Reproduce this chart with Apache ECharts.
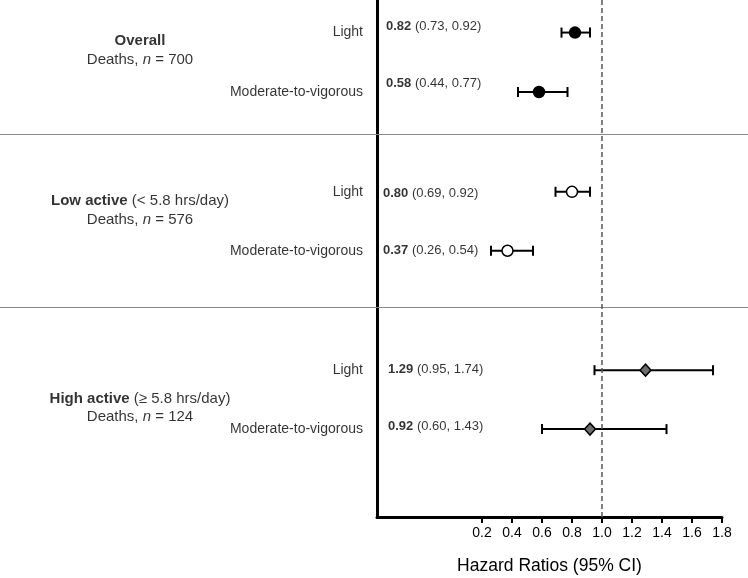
<!DOCTYPE html>
<html><head><meta charset="utf-8">
<script src="https://cdn.jsdelivr.net/npm/echarts@6/dist/echarts.min.js"></script>
<style>html,body{margin:0;padding:0;background:#fff}#c{width:748px;height:578px}</style>
</head><body><div id="c"></div>
<script>
// ---- data ----
const groups = ['Overall', 'Low active', 'High active'];
const groupNotes = ['', ' (< 5.8 hrs/day)', ' (≥ 5.8 hrs/day)'];
const deaths = [700, 576, 124];
const intensities = ['Light', 'Moderate-to-vigorous'];
const hr = [0.82, 0.58, 0.80, 0.37, 1.29, 0.92];
const ciLow = [0.73, 0.44, 0.69, 0.26, 0.95, 0.60];
const ciHigh = [0.92, 0.77, 0.92, 0.54, 1.74, 1.43];
const tickValues = [0.2, 0.4, 0.6, 0.8, 1.0, 1.2, 1.4, 1.6, 1.8];

// ---- layout (vertical positions in axis units, 0 = top) ----
const rowY = [6.3, 17.8, 37.1, 48.5, 71.6, 83.0];
const groupY = [9.7, 40.7, 78.9];
const sepY = [25.9, 59.4];
const hrLabelDy = [-6, -9, 2, 0, -1, -3];
const hrLabelDx = [9, 9, 6, 6, 11, 11];
const intLabelDy = [0, 0, 0, 0, 0, 0];

const FONT = 'Liberation Sans, Arial, sans-serif';
const XMIN = -0.5;

const chart = echarts.init(document.getElementById('c'), null, {renderer: 'canvas'});

function fmt(v) { return v.toFixed(2); }

const errData = hr.map((v, i) => [ciLow[i], ciHigh[i], rowY[i]]);
const groupStyles = [
  {symbol: 'circle', size: 11, color: '#000', border: '#000'},
  {symbol: 'circle', size: 11, color: '#fff', border: '#000'},
  {symbol: 'diamond', size: [11, 12], color: '#6e6e6e', border: '#000'}
];

const pointSeries = groups.map((g, gi) => ({
  type: 'scatter',
  name: g,
  z: 5,
  symbol: groupStyles[gi].symbol,
  symbolSize: groupStyles[gi].size,
  itemStyle: {color: groupStyles[gi].color, borderColor: groupStyles[gi].border, borderWidth: 1.5, opacity: 1},
  data: [0, 1].map(k => [hr[gi * 2 + k], rowY[gi * 2 + k]]),
  silent: true
}));

pointSeries[0].markLine = {
  silent: true,
  symbol: ['none', 'none'],
  label: {show: false},
  lineStyle: {type: [5, 3], color: '#555', width: 1.5},
  data: [{xAxis: 1.0}]
};

const option = {
  animation: false,
  backgroundColor: '#fff',
  grid: {left: 377, right: 26, top: 0, bottom: 61, outerBoundsMode: 'none', containLabel: false},
  xAxis: {
    type: 'value', min: XMIN, max: 1.8,
    splitLine: {show: false},
    axisLine: {show: true, onZero: false, lineStyle: {color: '#000', width: 3}},
    axisTick: {show: true, customValues: tickValues, length: 6, lineStyle: {color: '#000', width: 2}},
    axisLabel: {show: true, customValues: tickValues, margin: 9, color: '#000', fontSize: 14, fontFamily: FONT,
      formatter: v => v.toFixed(1)},
    name: 'Hazard Ratios (95% CI)',
    nameLocation: 'middle', nameGap: 40,
    nameTextStyle: {fontSize: 17.5, color: '#000', fontFamily: FONT}
  },
  yAxis: {
    type: 'value', min: 0, max: 100, inverse: true,
    splitLine: {show: false},
    axisLine: {show: true, onZero: false, lineStyle: {color: '#000', width: 3}},
    axisTick: {show: false}, axisLabel: {show: false}
  },
  series: [
    {
      type: 'custom',
      z: 3,
      silent: true,
      encode: {x: [0, 1], y: 2},
      data: errData,
      renderItem: function (params, api) {
        const a = api.coord([api.value(0), api.value(2)]);
        const b = api.coord([api.value(1), api.value(2)]);
        const h = 5;
        const st = {stroke: '#000', lineWidth: 2};
        return {type: 'group', children: [
          {type: 'line', shape: {x1: a[0], y1: a[1], x2: b[0], y2: b[1]}, style: st},
          {type: 'line', shape: {x1: a[0], y1: a[1] - h, x2: a[0], y2: a[1] + h}, style: st},
          {type: 'line', shape: {x1: b[0], y1: b[1] - h, x2: b[0], y2: b[1] + h}, style: st}
        ]};
      }
    },
    ...pointSeries,
    { // HR text labels
      type: 'scatter', symbolSize: 0, silent: true, clip: false,
      data: hr.map((v, i) => ({
        value: [XMIN, rowY[i]],
        label: {offset: [hrLabelDx[i], hrLabelDy[i]]}
      })),
      label: {
        show: true, position: 'right', distance: 0,
        fontSize: 13, fontFamily: FONT, color: '#000',
        formatter: p => '{b|' + fmt(hr[p.dataIndex]) + '} (' + fmt(ciLow[p.dataIndex]) + ', ' + fmt(ciHigh[p.dataIndex]) + ')',
        rich: {b: {fontWeight: 'bold', fontSize: 13, fontFamily: FONT, color: '#000'}}
      }
    },
    { // intensity labels
      type: 'scatter', symbolSize: 0, silent: true, clip: false,
      data: hr.map((v, i) => ({
        value: [XMIN, rowY[i]],
        name: intensities[i % 2],
        label: {offset: [0, intLabelDy[i]]}
      })),
      label: {
        show: true, position: 'left', distance: 14,
        fontSize: 14, fontFamily: FONT, color: '#000',
        formatter: p => p.name
      }
    },
    { // group labels
      type: 'scatter', symbolSize: 0, silent: true, clip: false,
      data: groups.map((g, i) => ({value: [XMIN, groupY[i]], name: g})),
      label: {
        show: true, position: 'left', distance: 237, align: 'center', verticalAlign: 'middle',
        fontSize: 15, fontFamily: FONT, color: '#000', lineHeight: 18.5,
        formatter: p => '{b|' + groups[p.dataIndex] + '}' + groupNotes[p.dataIndex] + '\nDeaths, {i|n} = ' + deaths[p.dataIndex],
        rich: {
          b: {fontWeight: 'bold', fontSize: 15, fontFamily: FONT, color: '#000', lineHeight: 18.5},
          i: {fontStyle: 'italic', fontSize: 15, fontFamily: FONT, color: '#000', lineHeight: 18.5}
        }
      }
    }
  ]
};

chart.setOption(option);

const seps = sepY.map(v => {
  const y = Math.round(chart.convertToPixel({gridIndex: 0}, [0, v])[1]) + 0.5;
  return {type: 'line', silent: true, z: 1, shape: {x1: 0, y1: y, x2: 748, y2: y}, style: {stroke: '#888', lineWidth: 1}};
});
chart.setOption({graphic: seps});
</script>
</body></html>
